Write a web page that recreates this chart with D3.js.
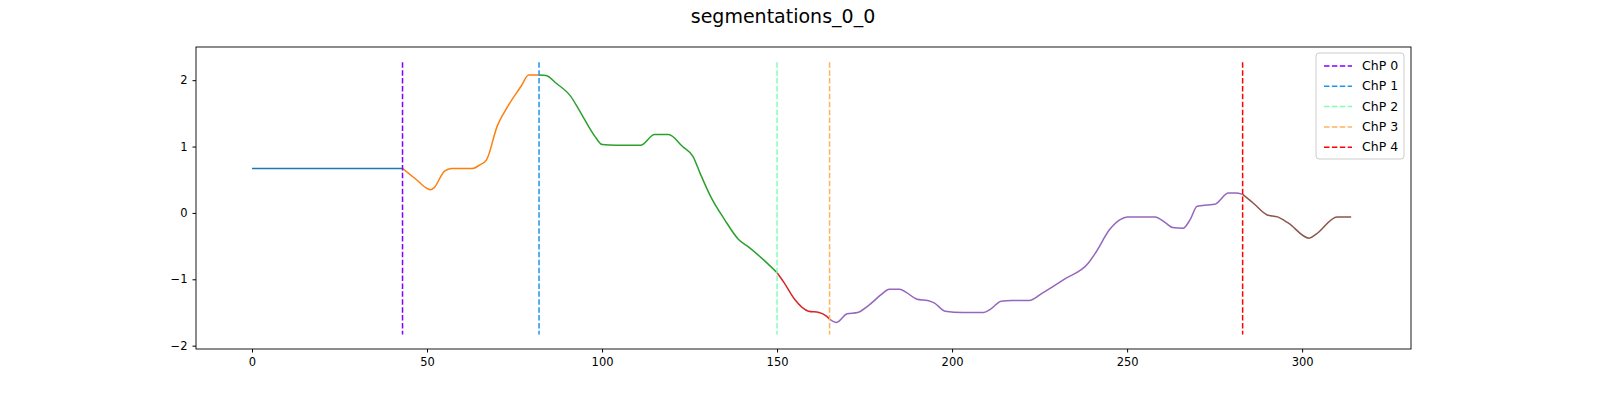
<!DOCTYPE html>
<html><head><meta charset="utf-8">
<script src="https://cdn.jsdelivr.net/npm/d3@7"></script>
<style>html,body{margin:0;padding:0;overflow:hidden;background:#fff;font-family:"DejaVu Sans",sans-serif;}svg{display:block;}</style>
</head><body><div id="chart"></div>
<script>
// segments of the signal, each [x, y]
var seg0 = [[0,0.67],[43,0.67]];
var seg1 = [[43,0.67],[47,0.5],[50,0.37],[51,0.35],[52,0.38],[55,0.63],[57,0.67],[63,0.67],[65,0.72],[67,0.8],[70,1.3],[73,1.6],[77,1.92],[79,2.08],[82,2.08]];
var seg2 = [[82,2.08],[84,2.07],[87,1.95],[91,1.76],[94,1.5],[98,1.15],[100,1.03],[104,1.02],[111,1.02],[115,1.18],[119,1.18],[123,1.0],[126,0.85],[128,0.6],[131,0.25],[135,-0.1],[139,-0.4],[142,-0.52],[146,-0.7],[150,-0.9]];
var seg3 = [[150,-0.9],[152,-1.05],[155,-1.3],[159,-1.48],[162,-1.5],[164,-1.55],[165,-1.6]];
var seg4 = [[165,-1.6],[167,-1.65],[170,-1.52],[173,-1.5],[176,-1.4],[180,-1.22],[182,-1.15],[185,-1.15],[187,-1.2],[190,-1.3],[193,-1.32],[195,-1.36],[198,-1.48],[203,-1.5],[209,-1.5],[211,-1.45],[214,-1.33],[217,-1.32],[222,-1.32],[226,-1.2],[232,-1.0],[239,-0.75],[241,-0.6],[245,-0.25],[248,-0.1],[250,-0.06],[258,-0.06],[261,-0.15],[263,-0.22],[266,-0.23],[268,-0.1],[270,0.1],[273,0.12],[275,0.13],[279,0.3],[281,0.3],[283,0.28]];
var seg5 = [[283,0.28],[286,0.15],[290,-0.03],[293,-0.06],[296,-0.15],[302,-0.38],[304,-0.32],[310,-0.06],[314,-0.06]];
var segments = [seg0, seg1, seg2, seg3, seg4, seg5];
var segColors = ["#1f77b4","#ff7f0e","#2ca02c","#d62728","#9467bd","#8c564b"];

var chpNames = ["ChP 0","ChP 1","ChP 2","ChP 3","ChP 4"];
var chpX = [43, 82, 150, 165, 283];
var chpColors = ["#8000ff","#1996f3","#80ffb4","#ffb360","#ff0000"];

var xTicks = [0,50,100,150,200,250,300];
var yTicks = [-2,-1,0,1,2];

var margin = {top: 47, right: 189, bottom: 51, left: 196},
    width = 1600 - margin.left - margin.right,
    height = 400 - margin.top - margin.bottom;

var svg = d3.select("#chart").append("svg")
    .attr("width", 1600).attr("height", 400);

svg.append("text").attr("x", 783).attr("y", 23).attr("text-anchor","middle")
    .style("font-size","19px").text("segmentations_0_0");

var g = svg.append("g").attr("transform","translate("+margin.left+","+margin.top+")");

var x = d3.scaleLinear().domain([-16, 331.1]).range([0, width]);
var y = d3.scaleLinear().domain([-2.05, 2.5]).range([height, 0]);

var line = d3.line().x(function(d){return x(d[0]);}).y(function(d){return y(d[1]);})
    .curve(d3.curveMonotoneX);

segments.forEach(function(s, i){
  g.append("path").datum(s).attr("fill","none")
    .attr("stroke", segColors[i]).attr("stroke-width",1.5).attr("d", line);
});

chpX.forEach(function(c, i){
  g.append("line").attr("x1", x(c)).attr("x2", x(c))
    .attr("y1", y(2.27)).attr("y2", y(-1.83))
    .attr("stroke", chpColors[i]).attr("stroke-width",1.5)
    .attr("stroke-dasharray","5.5,2.4");
});

var xAxis = g.append("g").attr("transform","translate(0,"+height+")")
    .call(d3.axisBottom(x).tickValues(xTicks).tickSize(3.5).tickPadding(5));
var yAxis = g.append("g")
    .call(d3.axisLeft(y).tickValues(yTicks).tickSize(3.5).tickPadding(5)
      .tickFormat(function(d){return d < 0 ? "\u2212" + Math.abs(d) : d;}));
[xAxis, yAxis].forEach(function(a){
  a.selectAll("text").style("font-size","11.5px").style("font-family","DejaVu Sans");
  a.select(".domain").remove();
});
g.append("rect").attr("width", width).attr("height", height)
  .attr("fill","none").attr("stroke","#000").attr("stroke-width",0.9);

// legend
var lg = g.append("g").attr("transform","translate("+(width-95)+",6)");
lg.append("rect").attr("width",88).attr("height",106).attr("rx",3)
  .attr("fill","#fff").attr("stroke","#ccc");
chpNames.forEach(function(n, i){
  var yy = 13 + i*20.3;
  lg.append("line").attr("x1",8).attr("x2",36).attr("y1",yy).attr("y2",yy)
    .attr("stroke", chpColors[i]).attr("stroke-width",1.5).attr("stroke-dasharray","5.5,2.4");
  lg.append("text").attr("x",46).attr("y",yy+4).style("font-size","12.5px").text(n);
});
</script></body></html>
